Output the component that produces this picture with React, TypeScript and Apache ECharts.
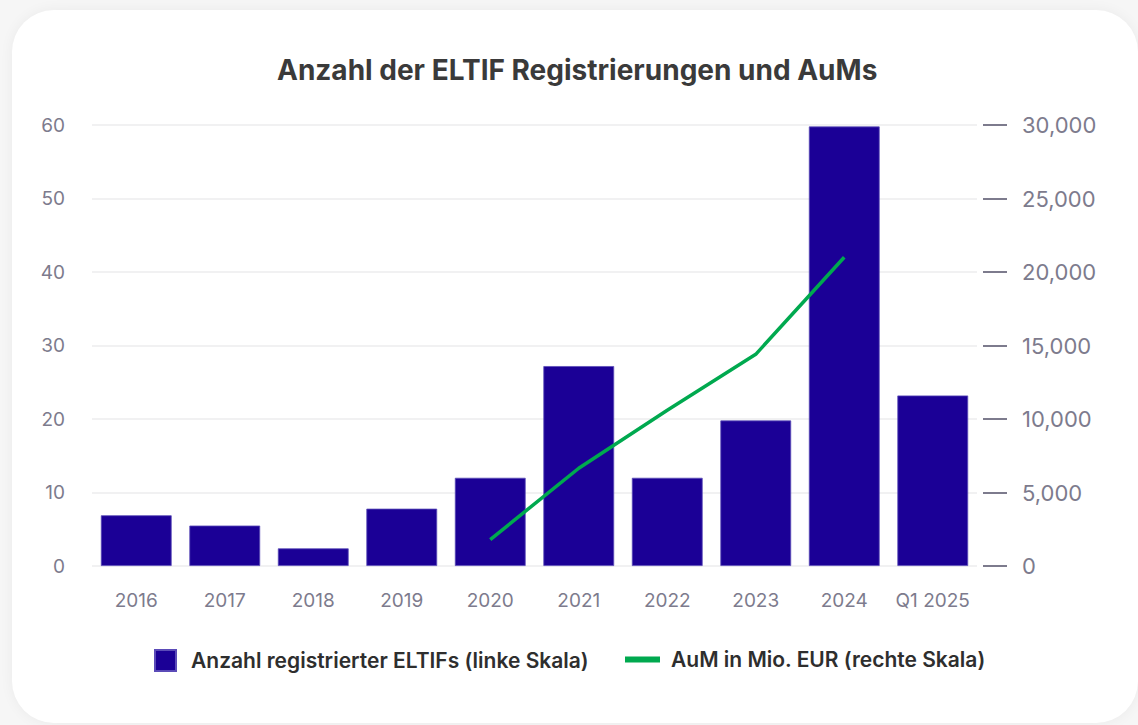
import React, { useEffect, useRef } from "react";
import * as echarts from "echarts";

const categories = ["2016", "2017", "2018", "2019", "2020", "2021", "2022", "2023", "2024", "Q1 2025"];
const eltifCount = [6.9, 5.5, 2.4, 7.8, 12, 27.2, 12, 19.8, 59.8, 23.2];
const aumMio: (number | null)[] = [null, null, null, null, 1800, 6650, 10600, 14400, 21000, null];
const leftTicks = { min: 0, max: 60, interval: 10 };
const rightTicks = { min: 0, max: 30000, interval: 5000 };

const barName = "Anzahl registrierter ELTIFs (linke Skala)";
const lineName = "AuM in Mio. EUR (rechte Skala)";

const FONT = "Inter, 'Noto Sans', sans-serif";
const AXIS_COLOR = "#7d7b8d";

export default function App() {
  const ref = useRef<HTMLDivElement>(null);

  useEffect(() => {
    if (!ref.current) return;
    const chart = echarts.init(ref.current, undefined, { renderer: "svg" });
    chart.setOption({
      animation: false,
      textStyle: { fontFamily: FONT },
      title: {
        text: "Anzahl der ELTIF Registrierungen und AuMs",
        left: 272,
        top: 51,
        textStyle: { fontFamily: FONT, fontSize: 28, fontWeight: 700, color: "#3a3a3a" },
      },
      legend: [
        {
          data: [{ name: barName, icon: "rect" }],
          left: 149,
          top: 644,
          itemWidth: 21,
          itemHeight: 21,
          textStyle: { fontFamily: FONT, fontSize: 21, fontWeight: 600, color: "#2e2e2e", padding: [0, 0, 0, 10] },
          selectedMode: false,
        },
        {
          data: [{ name: lineName, icon: "rect" }],
          left: 620,
          top: 644,
          itemWidth: 35,
          itemHeight: 6,
          textStyle: { fontFamily: FONT, fontSize: 21, fontWeight: 600, color: "#2e2e2e", padding: [0, 0, 0, 6] },
          selectedMode: false,
        },
      ],
      grid: { left: 92, right: 161, top: 125, bottom: 159, containLabel: false },
      xAxis: {
        type: "category",
        data: categories,
        axisLine: { show: false },
        axisTick: { show: false },
        axisLabel: { color: AXIS_COLOR, fontSize: 19, fontFamily: FONT, margin: 25, interval: 0, hideOverlap: false },
      },
      yAxis: [
        {
          type: "value",
          min: leftTicks.min,
          max: leftTicks.max,
          interval: leftTicks.interval,
          axisLine: { show: false },
          axisTick: { show: false },
          axisLabel: { color: AXIS_COLOR, fontSize: 19, fontFamily: FONT, margin: 27 },
          splitLine: { lineStyle: { color: "#ececee", width: 1.5 } },
        },
        {
          type: "value",
          position: "right",
          offset: 6,
          min: rightTicks.min,
          max: rightTicks.max,
          interval: rightTicks.interval,
          axisLine: { show: false },
          axisTick: { show: true, length: 24, lineStyle: { color: AXIS_COLOR, width: 2 } },
          axisLabel: {
            color: AXIS_COLOR,
            fontSize: 22,
            fontFamily: FONT,
            margin: 39,
            formatter: (v: number) => v.toLocaleString("en-US"),
          },
          splitLine: { show: false },
        },
      ],
      series: [
        {
          name: barName,
          type: "bar",
          data: eltifCount,
          yAxisIndex: 0,
          barCategoryGap: "20%",
          itemStyle: { color: "#1b0096", borderColor: "#5b4bb8", borderWidth: 0.8 },
        },
        {
          name: lineName,
          type: "line",
          data: aumMio,
          yAxisIndex: 1,
          symbol: "none",
          lineStyle: { color: "#00a94f", width: 3.5 },
          itemStyle: { color: "#00a94f" },
        },
      ],
    });
    return () => chart.dispose();
  }, []);

  return (
    <div style={{ position: "fixed", left: 0, top: 0, width: 1138, height: 725, background: "#f6f6f6", overflow: "hidden" }}>
      <div
        style={{
          position: "absolute",
          left: 12,
          top: 10,
          width: 1126,
          height: 713,
          background: "#ffffff",
          borderRadius: 42,
          boxShadow: "0 0 14px rgba(0,0,0,0.05)",
        }}
      />
      <div ref={ref} style={{ position: "absolute", left: 0, top: 0, width: 1138, height: 725 }} />
    </div>
  );
}
